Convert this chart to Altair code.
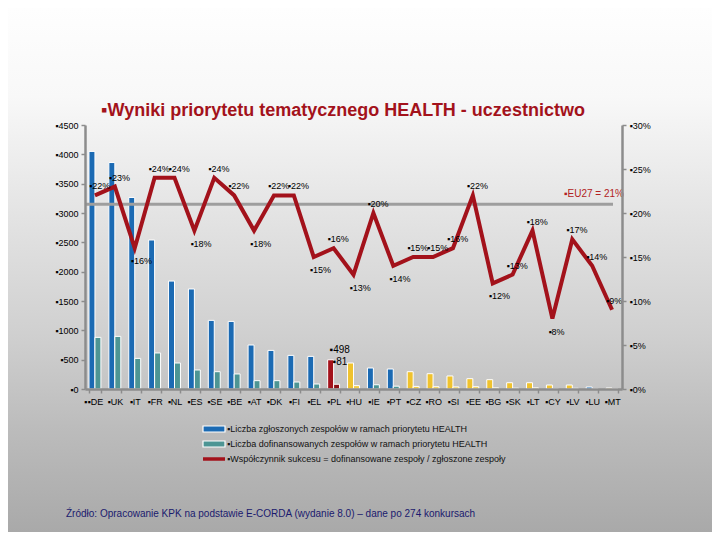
import altair as alt
import pandas as pd

# ---------------- data ----------------
countries = ["DE", "UK", "IT", "FR", "NL", "ES", "SE", "BE", "AT", "DK", "FI", "EL", "PL", "HU",
             "IE", "PT", "CZ", "RO", "SI", "EE", "BG", "SK", "LT", "CY", "LV", "LU", "MT"]
submitted = [4050, 3860, 3265, 2540, 1840, 1705, 1170, 1152, 750, 658, 573, 556, 498, 443,
             358, 341, 295, 261, 222, 176, 159, 107, 107, 68, 68, 34, 17]
funded = [880, 897, 522, 614, 443, 324, 295, 256, 142, 142, 119, 85, 81, 58,
          72, 48, 44, 39, 36, 39, 19, 14, 19, 5, 12, 5, 2]
success_rate = [22, 23, 16, 24, 24, 18, 24, 22, 18, 22, 22, 15, 16, 13,
                20, 14, 15, 15, 16, 22, 12, 13, 18, 8, 17, 14, 9]
eu13 = ["PL", "HU", "CZ", "RO", "SI", "EE", "BG", "SK", "LT", "CY", "LV", "MT"]
highlight = "PL"
eu27_rate = 21
count_ticks = [0, 500, 1000, 1500, 2000, 2500, 3000, 3500, 4000, 4500]
rate_ticks = [0, 0.05, 0.10, 0.15, 0.20, 0.25, 0.30]

title_text = "▪Wyniki priorytetu tematycznego HEALTH - uczestnictwo"
legend_labels = [
    "▪Liczba zgłoszonych zespołów w ramach priorytetu HEALTH",
    "▪Liczba dofinansowanych zespołów w ramach priorytetu HEALTH",
    "▪Współczynnik sukcesu = dofinansowane zespoły / zgłoszone zespoły",
]
source_text = "Źródło: Opracowanie KPK na podstawie E-CORDA (wydanie 8.0) – dane po 274 konkursach"
eu27_label = "▪EU27 = 21%"

# ---------------- styles ----------------
FONT = "Liberation Sans"
BLUE, TEAL = "#1B6AB3", "#4D9594"
YEL, YEL2 = "#EFC22E", "#F2CD4A"
RED, RED2 = "#A3121B", "#8A1015"
LINE_RED = "#A3121B"
AX = "#8c8c8c"

W, H = 537, 264
PADL, PADT, PADR, PADB = 77, 117, 90, 143

# ---------------- tables ----------------
rows = []
for c, s, f in zip(countries, submitted, funded):
    if c == highlight:
        cs, cf = RED, RED2
    elif c in eu13:
        cs, cf = YEL, YEL2
    else:
        cs, cf = BLUE, TEAL
    rows.append({"country": c, "series": "a", "value": s, "color": cs})
    rows.append({"country": c, "series": "b", "value": f, "color": cf})
bar_df = pd.DataFrame(rows)

n = len(success_rate)
lrows = []
for i, (c, r) in enumerate(zip(countries, success_rate)):
    prev = success_rate[i - 1] if i > 0 else -1e9
    nxt = success_rate[i + 1] if i < n - 1 else -1e9
    below = r < prev and r < nxt
    lrows.append({"country": c, "rate": r / 100, "label": f"▪{r}%", "below": below})
line_df = pd.DataFrame(lrows)

one = pd.DataFrame({"a": [0]})

axis_style = dict(labelFont=FONT, labelFontSize=9, labelColor="#000",
                  domainColor=AX, domainWidth=2.5, tickColor=AX, tickWidth=1.5,
                  tickSize=4, zindex=1, labelOverlap=False)

xenc = alt.X("country:N", sort=countries,
             scale=alt.Scale(paddingInner=0.4, paddingOuter=0.2),
             axis=alt.Axis(title=None, labelAngle=0, labelExpr="'▪' + datum.label",
                           tickBand="extent", labelPadding=4, **axis_style))

ycount = alt.Y("value:Q", scale=alt.Scale(domain=[0, 4500], nice=False),
               axis=alt.Axis(orient="left", title=None, values=count_ticks,
                             labelExpr="'▪' + datum.value", grid=False, labelPadding=3,
                             **axis_style))

yrate = alt.Y("rate:Q", scale=alt.Scale(domain=[0, 0.3], nice=False),
              axis=alt.Axis(orient="right", title=None, values=rate_ticks,
                            labelExpr="'▪' + format(datum.value, '.0%')", grid=False,
                            labelPadding=3, **axis_style))

# ---------------- background ----------------
grad = alt.LinearGradient(
    gradient="linear", x1=0, x2=0, y1=0, y2=1,
    stops=[alt.GradientStop(color="#fefefe", offset=0),
           alt.GradientStop(color="#f8f8f8", offset=0.17),
           alt.GradientStop(color="#e3e3e3", offset=0.4),
           alt.GradientStop(color="#d0d0d0", offset=0.62),
           alt.GradientStop(color="#bcbcbc", offset=0.8),
           alt.GradientStop(color="#a9a9a9", offset=1)])
bg = alt.Chart(one).mark_rect(color=grad).encode(
    x=alt.value(-PADL), x2=alt.value(W + PADR), y=alt.value(-PADT), y2=alt.value(H + PADB))

# ---------------- bars ----------------
bars = alt.Chart(bar_df).mark_bar(stroke="white", strokeWidth=1).encode(
    x=xenc,
    xOffset=alt.XOffset("series:N"),
    y=ycount,
    color=alt.Color("color:N", scale=None),
)

pl_sub = alt.Chart(bar_df).transform_filter(
    (alt.datum.country == highlight) & (alt.datum.series == "a")
).transform_calculate(t="'▪' + datum.value").mark_text(
    align="left", dx=-4, dy=-10, font=FONT, fontSize=10, color="#000").encode(
    x=xenc, y=ycount, text="t:N")
pl_fund = alt.Chart(bar_df).transform_filter(
    (alt.datum.country == highlight) & (alt.datum.series == "b")
).transform_calculate(t="'▪' + datum.value").mark_text(
    align="left", dx=-1, dy=-22, font=FONT, fontSize=10, color="#000").encode(
    x=xenc, y=ycount, text="t:N")

# ---------------- title / legend / source ----------------
title = alt.Chart(one).mark_text(text=title_text, font=FONT, fontSize=18, fontWeight="bold",
                                 color="#A3121B", align="center", baseline="alphabetic").encode(
    x=alt.value(258), y=alt.value(-9))

leg_x0, leg_x1, leg_tx = 118, 140, 142
leg_y = [304, 319, 334]
sw1 = alt.Chart(one).mark_rect(color=BLUE, stroke="white", strokeWidth=1.2).encode(
    x=alt.value(leg_x0), x2=alt.value(leg_x1), y=alt.value(leg_y[0] - 3), y2=alt.value(leg_y[0] + 3))
sw2 = alt.Chart(one).mark_rect(color=TEAL, stroke="white", strokeWidth=1.2).encode(
    x=alt.value(leg_x0), x2=alt.value(leg_x1), y=alt.value(leg_y[1] - 3), y2=alt.value(leg_y[1] + 3))
sw3 = alt.Chart(one).mark_rule(color=LINE_RED, strokeWidth=3.5).encode(
    x=alt.value(leg_x0), x2=alt.value(leg_x1), y=alt.value(leg_y[2]))
leg_texts = [
    alt.Chart(one).mark_text(text=lab, font=FONT, fontSize=9, color="#111", align="left",
                             baseline="middle").encode(x=alt.value(leg_tx), y=alt.value(yy))
    for lab, yy in zip(legend_labels, leg_y)
]
source = alt.Chart(one).mark_text(text=source_text, font=FONT, fontSize=10, color="#1a1a6e",
                                  align="left", baseline="alphabetic").encode(
    x=alt.value(-19), y=alt.value(392))

count_group = alt.layer(bg, bars, pl_sub, pl_fund, title, sw1, sw2, sw3, *leg_texts, source)

# ---------------- success rate line ----------------
eu_df = pd.DataFrame({"rate": [eu27_rate / 100], "label": [eu27_label]})
eu_rule = alt.Chart(eu_df).mark_rule(color="#9e9e9e", strokeWidth=3).encode(
    y=yrate, x=alt.value(0), x2=alt.value(W - 9))
eu_text = alt.Chart(eu_df).mark_text(align="right", dx=0, dy=-10, font=FONT, fontSize=10,
                                     color="#B22222").encode(
    y=yrate, x=alt.value(W + 2), text="label:N")

line = alt.Chart(line_df).mark_line(color=LINE_RED, strokeWidth=4).encode(x=xenc, y=yrate)
lab_above = alt.Chart(line_df).transform_filter("!datum.below").mark_text(
    align="left", dx=-6, dy=-9, font=FONT, fontSize=9, color="#000").encode(
    x=xenc, y=yrate, text="label:N")
lab_below = alt.Chart(line_df).transform_filter("datum.below").mark_text(
    align="left", dx=-4, dy=13, font=FONT, fontSize=9, color="#000").encode(
    x=xenc, y=yrate, text="label:N")

rate_group = alt.layer(eu_rule, eu_text, line, lab_above, lab_below)

chart = alt.layer(count_group, rate_group).resolve_scale(y="independent").properties(
    width=W, height=H,
    padding={"left": PADL, "top": PADT, "right": PADR, "bottom": PADB},
    autosize=alt.AutoSizeParams(type="none"),
).configure_view(stroke=None).configure(background="#ffffff")

chart.save("out.html", embed_options={"renderer": "svg", "actions": False})
